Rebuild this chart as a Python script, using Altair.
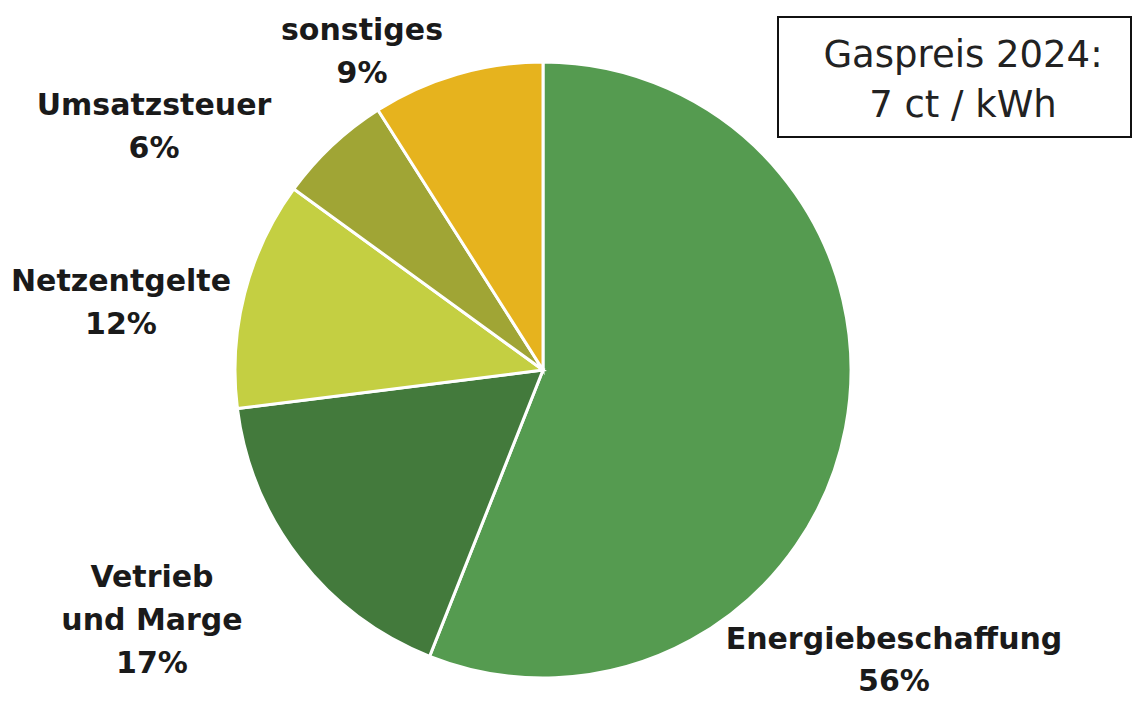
import altair as alt
import pandas as pd

categories = ["Energiebeschaffung", "Vetrieb und Marge", "Netzentgelte", "Umsatzsteuer", "sonstiges"]
label_lines = ["Energiebeschaffung", "Vetrieb\nund Marge", "Netzentgelte", "Umsatzsteuer", "sonstiges"]
shares = [56, 17, 12, 6, 9]
colors = ["#559B50", "#437A3C", "#C4CF42", "#A0A535", "#E6B31E"]
box_lines = ["Gaspreis 2024:", "7 ct / kWh"]

df = pd.DataFrame({
    "category": categories,
    "share": shares,
    "order": list(range(len(categories))),
    "label": [f"{l}\n{s}%" for l, s in zip(label_lines, shares)],
})

# label anchor positions (chart pixel coords, first-line baseline)
label_pos = {
    "Energiebeschaffung": (886, 641),
    "Vetrieb und Marge": (144, 579),
    "Netzentgelte": (113, 283),
    "Umsatzsteuer": (146, 107),
    "sonstiges": (354, 32),
}

base = alt.Chart(df)

pie = base.mark_arc(outerRadius=308, stroke="white", strokeWidth=3).encode(
    theta=alt.Theta("share:Q", stack=True),
    order=alt.Order("order:Q"),
    color=alt.Color("category:N", scale=alt.Scale(domain=categories, range=colors), legend=None),
    x=alt.value(535),
    y=alt.value(362),
)

layers = [pie]
for cat in categories:
    px, py = label_pos[cat]
    layers.append(
        base.transform_filter(alt.datum.category == cat)
        .mark_text(font="DejaVu Sans", fontWeight="bold", fontSize=30,
                   lineHeight=42 if cat == "Energiebeschaffung" else 43,
                   lineBreak="\n", align="center", baseline="alphabetic", color="#1a1a1a")
        .encode(text="label:N", x=alt.value(px), y=alt.value(py))
    )

box_df = pd.DataFrame({"t": ["\n".join(box_lines)]})
box = alt.Chart(box_df).mark_rect(fill="white", stroke="#111111", strokeWidth=2).encode(
    x=alt.value(770), x2=alt.value(1123), y=alt.value(9), y2=alt.value(129)
)
box_text = alt.Chart(box_df).mark_text(font="DejaVu Sans", fontSize=37, lineHeight=50, lineBreak="\n",
                                       align="center", baseline="alphabetic", color="#222222").encode(
    text="t:N", x=alt.value(955), y=alt.value(59)
)
layers += [box, box_text]

chart = alt.layer(*layers).properties(
    width=1124, height=691, autosize=alt.AutoSizeParams(type="none"), padding=0
).configure_view(stroke=None)

chart.save("out.html", embed_options={"renderer": "svg", "actions": False})
